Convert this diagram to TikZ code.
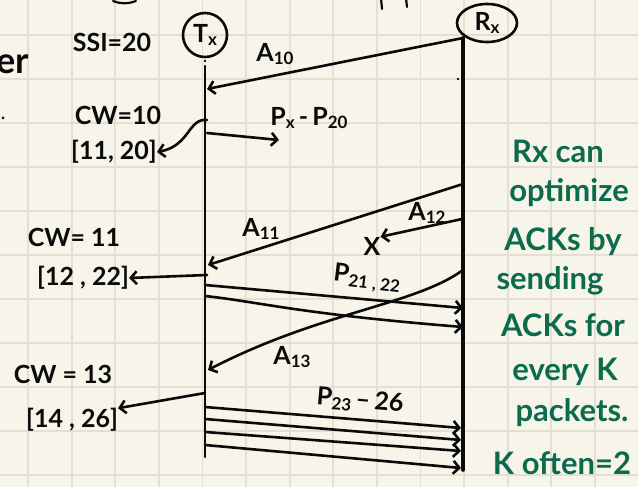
\documentclass[tikz,border=0pt]{standalone}
\usepackage{fontspec}
\setmainfont{Lato}
\usetikzlibrary{arrows.meta,shapes.geometric}
\definecolor{paper}{HTML}{F7F5EA}
\definecolor{gridc}{HTML}{E3E0D3}
\definecolor{ink}{HTML}{0A0A0A}
\definecolor{greenink}{HTML}{0D6B4D}
\newcommand{\lo}[1]{\raisebox{-0.3ex}{\fontsize{17}{17}\selectfont #1}}
\begin{document}
\begin{tikzpicture}[x=1pt,y=-1pt,
  hand/.style={line width=2.6pt, line cap=round, line join=round, draw=ink},
  arr/.style={hand, -{Straight Barb[length=6pt,width=13pt]}},
  lbl/.style={text=ink, font=\fontsize{25}{27}\selectfont\bfseries, inner sep=0pt},
  note/.style={text=greenink, font=\fontsize{31}{33}\selectfont\bfseries, inner sep=0pt},
  ]
\fill[paper] (0,0) rectangle (638,487);
\useasboundingbox (0,0) rectangle (638,487);
\begin{scope}
\clip (0,0) rectangle (638,487);
\foreach \i in {0,...,14} \draw[gridc, line width=1.8pt] (28+43.6*\i, 0) -- (28+43.6*\i, 487);
\foreach \j in {0,...,10} \draw[gridc, line width=1.8pt] (0, 35+44*\j) -- (638, 35+44*\j);
% fragments of text cut off at the edges
\node[lbl, anchor=east, font=\fontsize{36}{38}\selectfont\bfseries] (frag) at (29,64) {er};
\fill[ink] (3,118) circle (1.5pt);
\draw[hand, line width=2.2pt] (113,1) .. controls (120,4) and (128,4) .. (136,1);
\draw[hand, line width=2.2pt] (381,-2) -- (382,9);
\draw[hand, line width=2.2pt] (406,-2) -- (407,7);
\end{scope}

% participants
\node[circle, draw=ink, line width=2.6pt, minimum size=44pt, inner sep=0pt, lbl] (tx) at (205,35) {T\lo{x}};
\node[ellipse, draw=ink, line width=2.6pt, minimum width=60pt, minimum height=38pt, inner sep=0pt, lbl] (rx) at (487,23) {R\lo{x}};

% lifelines
\coordinate (txtop) at (205,66);
\coordinate (txbot) at (205,457);
\coordinate (rxtop) at (463,38);
\coordinate (rxbot) at (463,470);
\fill[ink] (205,61) circle (1.3pt);
\fill[ink] (458,79) circle (1.3pt);
\draw[hand] (txtop) -- (txbot);
\draw[hand, line width=3.6pt] (rxtop) -- (rxbot);

% A10
\coordinate (a10) at (207,89);
\draw[arr] (rxtop) -- (a10);
\node[lbl] (la10) at (275,54) {A\lo{10}};

% CW=10
\node[lbl] (ssi) at (112,42) {SSI=20};
\node[lbl] (cw10) at (118,115) {CW=10};
\node[lbl] (w10) at (114,152) {[11, 20]};
\coordinate (c10) at (207,120);
\draw[arr] (c10) .. controls (188,118) and (190,146) .. (w10.east);
\coordinate (p1s) at (207,133);
\coordinate (p1e) at (279,140);
\draw[arr] (p1s) -- (p1e);
\node[lbl] (lp1) at (309,118) {P\lo{x}\,-\,P\lo{20}};

% A11
\coordinate (a11s) at (463,184);
\coordinate (a11e) at (208,265);
\draw[arr] (a11s) -- (a11e);
\node[lbl] (la11) at (261,229) {A\lo{11}};

% A12 (lost)
\coordinate (a12s) at (462,219);
\node[lbl] (lost) at (372,246) {X};
\draw[arr] (a12s) -- (lost.north east);
\node[lbl] (la12) at (427,213) {A\lo{12}};

% CW=11
\node[lbl] (cw11) at (74,237) {CW= 11};
\node[lbl] (w11) at (83,278) {[12 , 22]};
\coordinate (c11) at (207,275);
\draw[arr] (c11) -- (w11.east);

% P21,22
\coordinate (p21s) at (205,285);
\coordinate (p21e) at (463,308);
\coordinate (p22s) at (205,296);
\coordinate (p22e) at (463,327);
\draw[arr] (p21s) -- (p21e);
\draw[arr] (p22s) .. controls (260,302) and (300,314) .. (p22e);
\node[lbl, rotate=-7] (lp21) at (367,279) {P\lo{21 , 22}};

% A13
\coordinate (a13s) at (463,270);
\coordinate (a13e) at (208,370);
\draw[arr] (a13s) .. controls (415,305) and (320,312) .. (a13e);
\node[lbl] (la13) at (292,357) {A\lo{13}};

% CW=13
\node[lbl] (cw13) at (63,374) {CW = 13};
\node[lbl] (w13) at (72,420) {[14 , 26]};
\coordinate (c13) at (205,393);
\draw[arr] (c13) -- (w13.north east);

% P23-26
\foreach \n/\ys/\ye in {1/407/428, 2/419/440, 3/432/451, 4/445/468} {
  \coordinate (q\n s) at (205,\ys);
  \coordinate (q\n e) at (461,\ye);
  \draw[arr] (q\n s) -- (q\n e);
}
\node[lbl, rotate=-5] (lp23) at (360,401) {P\lo{23}\,--\,26};

% green note
\node[note] (n1) at (558,151) {Rx can};
\node[note] (n2) at (569,193) {optimize};
\node[note] (n3) at (563,242) {ACKs by};
\node[note] (n4) at (550,281) {sending};
\node[note] (n5) at (563,325) {ACKs for};
\node[note] (n6) at (565,372) {every K};
\node[note] (n7) at (572,413) {packets.};
\node[note] (n8) at (562,463) {K often=2};
\end{tikzpicture}
\end{document}
